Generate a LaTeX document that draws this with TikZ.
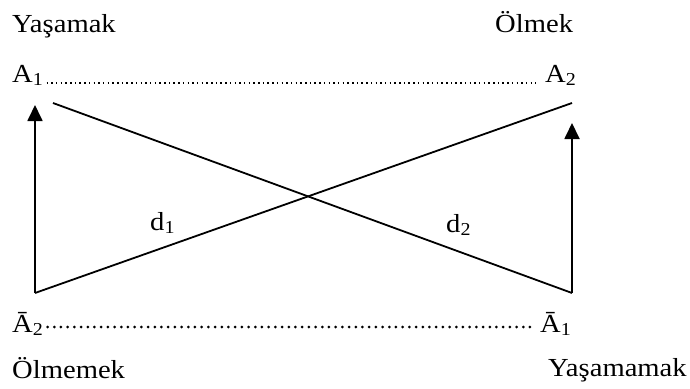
\documentclass[tikz,border=0pt]{standalone}
\usepackage{fontspec}
\setmainfont{Liberation Serif}[FakeStretch=1.1]
\usetikzlibrary{arrows.meta}

\tikzset{
  word/.style={inner sep=0pt, anchor=base west, font=\fontsize{26}{30}\selectfont},
  leg/.style={line width=1.8pt},
  upleg/.style={leg, -{Triangle[width=15pt,length=16pt]}},
  finedots/.style={line width=1.5pt, dash pattern=on 1.5pt off 3.2pt},
  bigdots/.style={line width=3pt, line cap=round, dash pattern=on 0pt off 6.7pt},
}

\begin{document}
\begin{tikzpicture}[x=1pt, y=-1pt]
\useasboundingbox (0,0) rectangle (690,388);

\node[word] (yas) at (12,32) {Yaşamak};
\node[word] (olm) at (495,32) {Ölmek};
\node[word] (A1) at (12,82) {A\textsubscript{1}};
\node[word] (A2) at (545,82) {A\textsubscript{2}};
\node[word] (Ab2) at (12,332) {Ā\textsubscript{2}};
\node[word] (Ab1) at (540,332) {Ā\textsubscript{1}};
\node[word] (olmm) at (12,378) {Ölmemek};
\node[word] (yasm) at (548,376) {Yaşamamak};
\node[word] (d1) at (150,230) {d\textsubscript{1}};
\node[word] (d2) at (446,232) {d\textsubscript{2}};

\coordinate (bl) at (35,293);
\coordinate (br) at (572,293);
\coordinate (tl) at (53,103);
\coordinate (tr) at (572,103);
\coordinate (ltip) at (35,105);
\coordinate (rtip) at (572,123);

% dotted rows
\draw[finedots] ([xshift=3pt,yshift=-1pt]A1.base east) -- ([xshift=-9pt,yshift=-1pt]A2.base west);
\draw[bigdots] ([xshift=4pt,yshift=5pt]Ab2.base east) -- ([xshift=-9pt,yshift=5pt]Ab1.base west);

% crossing lines and arrows
\draw[leg] (tl) -- (br);
\draw[leg] (bl) -- (tr);
\draw[upleg] (bl) -- (ltip);
\draw[upleg] (br) -- (rtip);
\end{tikzpicture}
\end{document}
